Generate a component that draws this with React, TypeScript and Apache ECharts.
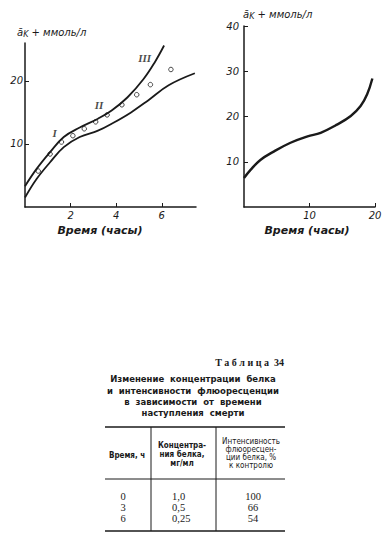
import React, { useEffect, useRef } from "react";
import * as echarts from "echarts";

// Left chart: curves III (upper) and lower bound, with measured points
const leftUpper: number[][] = [
  [0, 3.3], [0.5, 6.0], [1.1, 8.7], [1.7, 11.1], [2.4, 12.6], [3.2, 14.0],
  [3.8, 15.3], [4.5, 17.4], [5.2, 20.3], [5.7, 23.0], [6.1, 25.6],
];
const leftLower: number[][] = [
  [0, 1.5], [0.5, 4.4], [1.1, 7.1], [1.7, 9.5], [2.4, 11.1], [3.2, 12.1],
  [3.9, 13.4], [4.65, 15.0], [5.4, 16.9], [6.3, 19.3], [7.45, 21.2],
];
const leftPoints: number[][] = [
  [0.58, 5.7], [1.1, 8.4], [1.6, 10.3], [2.1, 11.3], [2.6, 12.4], [3.1, 13.5],
  [3.6, 14.6], [4.25, 16.2], [4.9, 17.8], [5.5, 19.4], [6.4, 21.8],
];
const leftLabels: { name: string; x: number; y: number }[] = [
  { name: "I", x: 1.3, y: 11.8 },
  { name: "II", x: 3.25, y: 16.1 },
  { name: "III", x: 5.25, y: 23.7 },
];
const leftXTicks = [2, 4, 6];
const leftYTicks = [10, 20];

// Right chart
const rightCurve: number[][] = [
  [0, 6.4], [1.0, 8.2], [2.5, 10.4], [4.6, 12.3], [7.1, 14.2], [9.7, 15.6],
  [11.7, 16.4], [14.2, 18.2], [16.3, 20.1], [17.8, 22.3], [18.8, 24.9], [19.6, 28.4],
];
const rightXTicks = [10, 20];
const rightYTicks = [10, 20, 30, 40];

// Table 34
const tableNumber = "Т а б л и ц а  34";
const tableTitle = [
  "Изменение  концентрации  белка",
  "и  интенсивности  флюоресценции",
  "в  зависимости  от  времени",
  "наступления  смерти",
];
const headTime = ["Время, ч"];
const headConc = ["Концентра-", "ния белка,", "мг/мл"];
const headFluor = ["Интенсивность", "флюоресцен-", "ции белка, %", "к контролю"];
const colTime = ["0", "3", "6"];
const colConc = ["1,0", "0,5", "0,25"];
const colFluor = ["100", "66", "54"];

const INK = "#1a1a1a";

export default function App() {
  const ref = useRef<HTMLDivElement>(null);
  useEffect(() => {
    document.body.style.margin = "0";
    const chart = echarts.init(ref.current!, undefined, { renderer: "svg" });

    const tickFont = {
      color: INK,
      fontStyle: "italic" as const,
      fontFamily: "DejaVu Sans",
      fontSize: 10,
    };

    const graphics: any[] = [];
    const axisName = (x: number, y: number) => ({
      type: "text",
      left: x,
      top: y,
      style: {
        text: "ā{sub|K} + ммоль/л",
        fill: INK,
        font: "italic 10px 'DejaVu Sans'",
        rich: {
          sub: { fontSize: 8, fontStyle: "italic", fontFamily: "DejaVu Sans", verticalAlign: "bottom", padding: [4, 0, 0, 0], fill: INK },
        },
      },
    });
    graphics.push(axisName(17, 27));
    graphics.push(axisName(243, 9));
    graphics.push({
      type: "text", x: 100, y: 230,
      style: { text: "Время (часы)", fill: INK, font: "italic bold 11px 'DejaVu Sans'", textAlign: "center", textVerticalAlign: "middle" },
    });
    graphics.push({
      type: "text", x: 307, y: 230,
      style: { text: "Время (часы)", fill: INK, font: "italic bold 11px 'DejaVu Sans'", textAlign: "center", textVerticalAlign: "middle" },
    });

    // Table
    graphics.push({
      type: "text", x: 284, y: 362,
      style: { text: tableNumber, fill: INK, font: "bold 10px 'Liberation Serif'", textAlign: "right", textVerticalAlign: "middle" },
    });
    const titleY = [379, 391, 402, 413];
    tableTitle.forEach((t, i) => {
      graphics.push({
        type: "text", x: 193, y: titleY[i],
        style: { text: t, fill: INK, font: "bold 8.5px 'DejaVu Sans'", textAlign: "center", textVerticalAlign: "middle" },
      });
    });
    const hLine = (y: number, w: number) => ({
      type: "line", shape: { x1: 105, y1: y, x2: 285, y2: y }, style: { stroke: INK, lineWidth: w },
    });
    graphics.push(hLine(427, 1.5));
    graphics.push(hLine(479, 1));
    graphics.push(hLine(531, 1.5));
    [151, 216].forEach((x) => {
      graphics.push({ type: "line", shape: { x1: x, y1: 427, x2: x, y2: 531 }, style: { stroke: INK, lineWidth: 1 } });
    });
    graphics.push({
      type: "text", x: 127, y: 455,
      style: { text: headTime[0], fill: INK, font: "bold 8px 'DejaVu Sans Condensed'", textAlign: "center", textVerticalAlign: "middle" },
    });
    const concY = [445, 454, 463];
    headConc.forEach((t, i) => {
      graphics.push({
        type: "text", x: 182, y: concY[i],
        style: { text: t, fill: INK, font: "bold 8px 'DejaVu Sans Condensed'", textAlign: "center", textVerticalAlign: "middle" },
      });
    });
    const fluY = [441, 449, 457, 465];
    headFluor.forEach((t, i) => {
      graphics.push({
        type: "text", x: 251, y: fluY[i],
        style: { text: t, fill: INK, font: "8px 'DejaVu Sans Condensed'", textAlign: "center", textVerticalAlign: "middle" },
      });
    });
    const rowY = [496, 507, 518];
    const valFont = "10.5px 'Liberation Serif'";
    colTime.forEach((t, i) => {
      graphics.push({ type: "text", x: 123, y: rowY[i], style: { text: t, fill: INK, font: valFont, textAlign: "center", textVerticalAlign: "middle" } });
    });
    colConc.forEach((t, i) => {
      graphics.push({ type: "text", x: 172, y: rowY[i], style: { text: t, fill: INK, font: valFont, textAlign: "left", textVerticalAlign: "middle" } });
    });
    colFluor.forEach((t, i) => {
      graphics.push({ type: "text", x: 253, y: rowY[i], style: { text: t, fill: INK, font: valFont, textAlign: "center", textVerticalAlign: "middle" } });
    });

    const axisLine = { show: true, onZero: false, lineStyle: { color: INK, width: 1.5 } };
    const axisTick = { show: true, inside: true, length: 4, lineStyle: { color: INK, width: 1 } };

    chart.setOption({
      animation: false,
      backgroundColor: "#ffffff",
      grid: [
        { left: 25, top: 43, width: 171, height: 164 },
        { left: 244, top: 26, width: 131, height: 181 },
      ],
      xAxis: [
        {
          gridIndex: 0, type: "value", min: 0, max: 7.5, interval: 2,
          axisLine, axisTick: { ...axisTick, customValues: leftXTicks },
          splitLine: { show: false },
          axisLabel: { ...tickFont, margin: 3, customValues: leftXTicks },
        },
        {
          gridIndex: 1, type: "value", min: 0, max: 20, interval: 10,
          axisLine, axisTick: { ...axisTick, customValues: rightXTicks },
          splitLine: { show: false },
          axisLabel: { ...tickFont, margin: 3, customValues: rightXTicks },
        },
      ],
      yAxis: [
        {
          gridIndex: 0, type: "value", min: 0, max: 26, interval: 10,
          axisLine, axisTick: { ...axisTick, customValues: leftYTicks },
          splitLine: { show: false },
          axisLabel: { ...tickFont, margin: 2, customValues: leftYTicks },
        },
        {
          gridIndex: 1, type: "value", min: 0, max: 40, interval: 10,
          axisLine, axisTick: { ...axisTick, customValues: rightYTicks },
          splitLine: { show: false },
          axisLabel: { ...tickFont, margin: 5, customValues: rightYTicks },
        },
      ],
      series: [
        {
          type: "line", xAxisIndex: 0, yAxisIndex: 0, data: leftUpper, smooth: 0.4,
          showSymbol: false, lineStyle: { color: INK, width: 1.8 },
        },
        {
          type: "line", xAxisIndex: 0, yAxisIndex: 0, data: leftLower, smooth: 0.4,
          showSymbol: false, lineStyle: { color: INK, width: 1.8 },
        },
        {
          type: "scatter", xAxisIndex: 0, yAxisIndex: 0, data: leftPoints,
          symbol: "circle", symbolSize: 4.5,
          itemStyle: { color: "#ffffff", borderColor: INK, borderWidth: 1 },
        },
        {
          type: "scatter", xAxisIndex: 0, yAxisIndex: 0,
          data: leftLabels.map((l) => ({ value: [l.x, l.y], name: l.name })),
          symbolSize: 0,
          label: {
            show: true, position: "inside", formatter: (p: any) => p.name,
            color: INK, fontFamily: "Liberation Serif", fontSize: 11, fontWeight: "bold", fontStyle: "italic",
          },
        },
        {
          type: "line", xAxisIndex: 1, yAxisIndex: 1, data: rightCurve, smooth: 0.4,
          showSymbol: false, lineStyle: { color: INK, width: 2.4 },
        },
      ],
      graphic: graphics,
    });
    return () => chart.dispose();
  }, []);
  return <div ref={ref} style={{ width: 391, height: 538 }} />;
}
